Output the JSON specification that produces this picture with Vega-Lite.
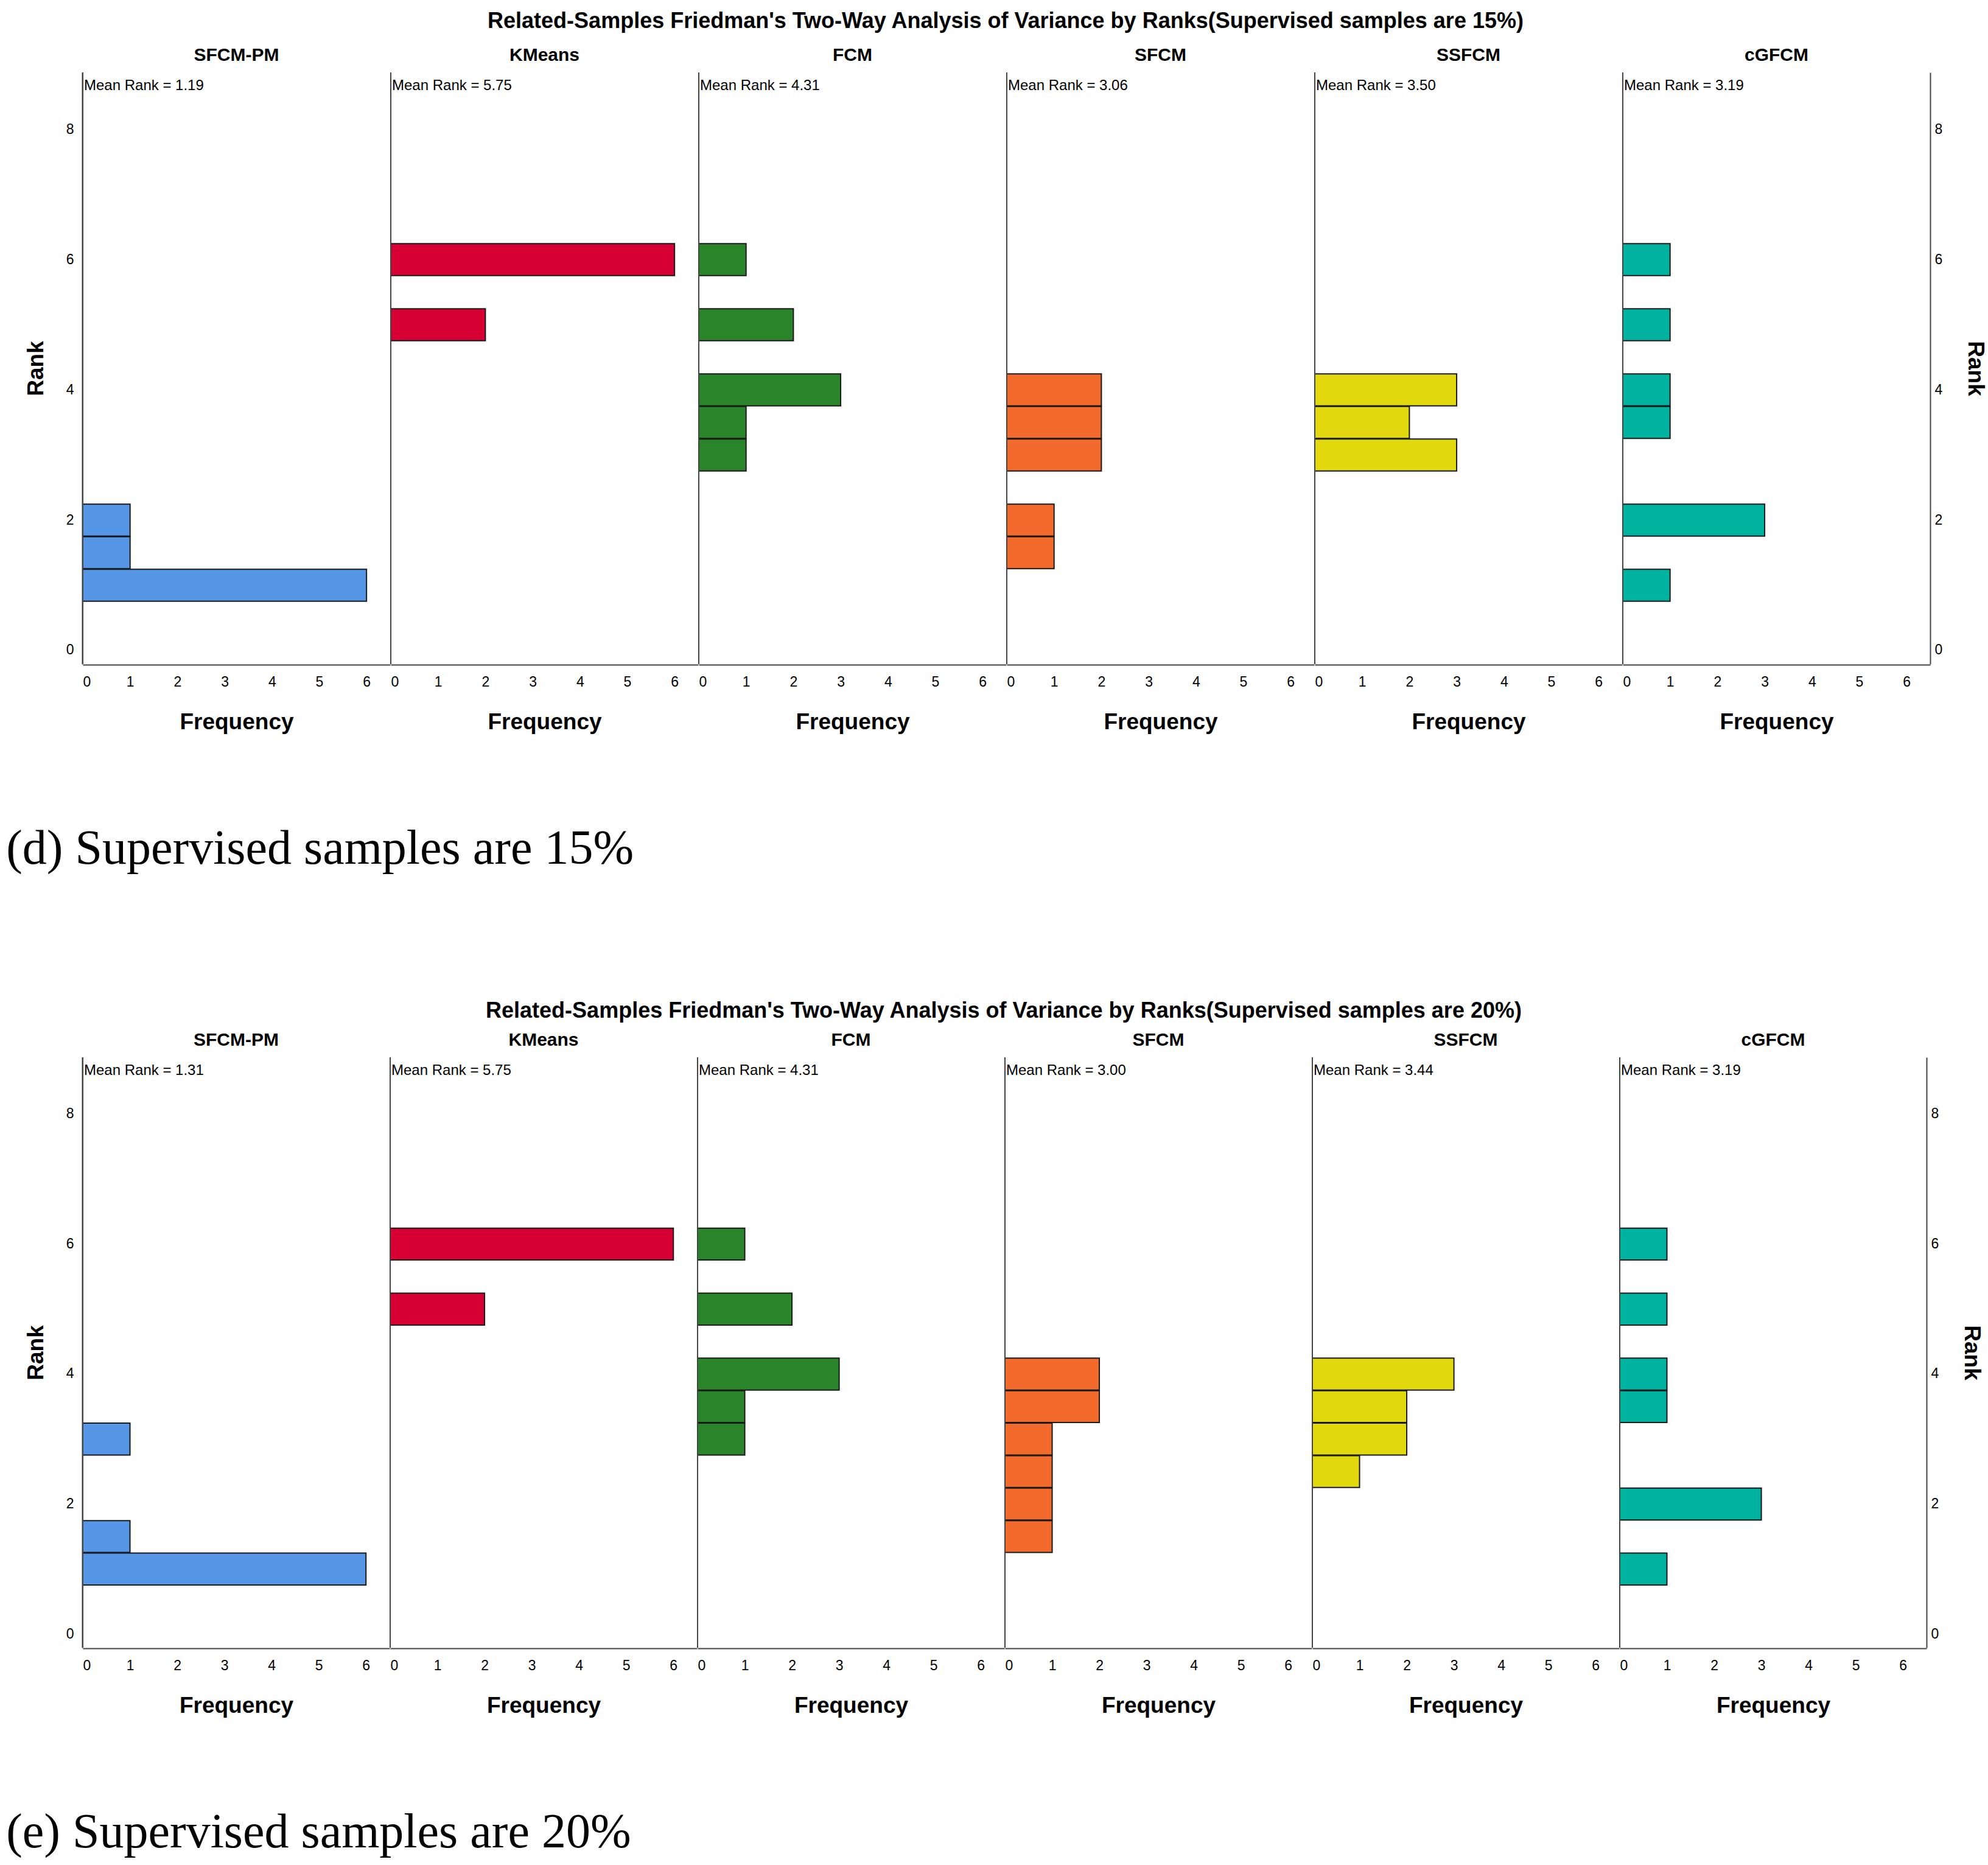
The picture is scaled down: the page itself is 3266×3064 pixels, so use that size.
{
  "$schema": "https://vega.github.io/schema/vega-lite/v6.json",
  "background": "white",
  "padding": {"left": 10, "top": 17, "right": 5, "bottom": 5},
  "datasets": {
    "d15": [
      {"type": "bar", "method": "SFCM-PM", "rank": 1, "count": 6},
      {"type": "bar", "method": "SFCM-PM", "rank": 1.5, "count": 1},
      {"type": "bar", "method": "SFCM-PM", "rank": 2, "count": 1},
      {"type": "bar", "method": "KMeans", "rank": 5, "count": 2},
      {"type": "bar", "method": "KMeans", "rank": 6, "count": 6},
      {"type": "bar", "method": "FCM", "rank": 3, "count": 1},
      {"type": "bar", "method": "FCM", "rank": 3.5, "count": 1},
      {"type": "bar", "method": "FCM", "rank": 4, "count": 3},
      {"type": "bar", "method": "FCM", "rank": 5, "count": 2},
      {"type": "bar", "method": "FCM", "rank": 6, "count": 1},
      {"type": "bar", "method": "SFCM", "rank": 1.5, "count": 1},
      {"type": "bar", "method": "SFCM", "rank": 2, "count": 1},
      {"type": "bar", "method": "SFCM", "rank": 3, "count": 2},
      {"type": "bar", "method": "SFCM", "rank": 3.5, "count": 2},
      {"type": "bar", "method": "SFCM", "rank": 4, "count": 2},
      {"type": "bar", "method": "SSFCM", "rank": 3, "count": 3},
      {"type": "bar", "method": "SSFCM", "rank": 3.5, "count": 2},
      {"type": "bar", "method": "SSFCM", "rank": 4, "count": 3},
      {"type": "bar", "method": "cGFCM", "rank": 1, "count": 1},
      {"type": "bar", "method": "cGFCM", "rank": 2, "count": 3},
      {"type": "bar", "method": "cGFCM", "rank": 3.5, "count": 1},
      {"type": "bar", "method": "cGFCM", "rank": 4, "count": 1},
      {"type": "bar", "method": "cGFCM", "rank": 5, "count": 1},
      {"type": "bar", "method": "cGFCM", "rank": 6, "count": 1},
      {"type": "label", "method": "SFCM-PM", "label": "Mean Rank = 1.19"},
      {"type": "label", "method": "KMeans", "label": "Mean Rank = 5.75"},
      {"type": "label", "method": "FCM", "label": "Mean Rank = 4.31"},
      {"type": "label", "method": "SFCM", "label": "Mean Rank = 3.06"},
      {"type": "label", "method": "SSFCM", "label": "Mean Rank = 3.50"},
      {"type": "label", "method": "cGFCM", "label": "Mean Rank = 3.19"}
    ],
    "d20": [
      {"type": "bar", "method": "SFCM-PM", "rank": 1, "count": 6},
      {"type": "bar", "method": "SFCM-PM", "rank": 1.5, "count": 1},
      {"type": "bar", "method": "SFCM-PM", "rank": 3, "count": 1},
      {"type": "bar", "method": "KMeans", "rank": 5, "count": 2},
      {"type": "bar", "method": "KMeans", "rank": 6, "count": 6},
      {"type": "bar", "method": "FCM", "rank": 3, "count": 1},
      {"type": "bar", "method": "FCM", "rank": 3.5, "count": 1},
      {"type": "bar", "method": "FCM", "rank": 4, "count": 3},
      {"type": "bar", "method": "FCM", "rank": 5, "count": 2},
      {"type": "bar", "method": "FCM", "rank": 6, "count": 1},
      {"type": "bar", "method": "SFCM", "rank": 1.5, "count": 1},
      {"type": "bar", "method": "SFCM", "rank": 2, "count": 1},
      {"type": "bar", "method": "SFCM", "rank": 2.5, "count": 1},
      {"type": "bar", "method": "SFCM", "rank": 3, "count": 1},
      {"type": "bar", "method": "SFCM", "rank": 3.5, "count": 2},
      {"type": "bar", "method": "SFCM", "rank": 4, "count": 2},
      {"type": "bar", "method": "SSFCM", "rank": 2.5, "count": 1},
      {"type": "bar", "method": "SSFCM", "rank": 3, "count": 2},
      {"type": "bar", "method": "SSFCM", "rank": 3.5, "count": 2},
      {"type": "bar", "method": "SSFCM", "rank": 4, "count": 3},
      {"type": "bar", "method": "cGFCM", "rank": 1, "count": 1},
      {"type": "bar", "method": "cGFCM", "rank": 2, "count": 3},
      {"type": "bar", "method": "cGFCM", "rank": 3.5, "count": 1},
      {"type": "bar", "method": "cGFCM", "rank": 4, "count": 1},
      {"type": "bar", "method": "cGFCM", "rank": 5, "count": 1},
      {"type": "bar", "method": "cGFCM", "rank": 6, "count": 1},
      {"type": "label", "method": "SFCM-PM", "label": "Mean Rank = 1.31"},
      {"type": "label", "method": "KMeans", "label": "Mean Rank = 5.75"},
      {"type": "label", "method": "FCM", "label": "Mean Rank = 4.31"},
      {"type": "label", "method": "SFCM", "label": "Mean Rank = 3.00"},
      {"type": "label", "method": "SSFCM", "label": "Mean Rank = 3.44"},
      {"type": "label", "method": "cGFCM", "label": "Mean Rank = 3.19"}
    ]
  },
  "spacing": 208,
  "vconcat": [
    {
      "title": {"text": "(d) Supervised samples are 15%", "orient": "bottom", "anchor": "start", "font": "Liberation Serif", "fontSize": 80, "fontWeight": "normal", "offset": 152, "dx": -30, "color": "black"},
      "vconcat": [
        {
          "data": {"name": "d15"},
          "title": {"text": "Related-Samples Friedman's Two-Way Analysis of Variance by Ranks(Supervised samples are 15%)", "fontSize": 36, "fontWeight": "bold", "anchor": "middle", "offset": 22, "color": "black"},
          "spacing": 0,
          "facet": {"column": {"field": "method", "type": "nominal", "sort": ["SFCM-PM", "KMeans", "FCM", "SFCM", "SSFCM", "cGFCM"], "header": {"title": null, "labelFontSize": 30, "labelFontWeight": "bold", "labelPadding": 12, "labelColor": "black"}}},
          "spec": {
            "width": 505,
            "height": 972,
            "layer": [
              {
                "transform": [{"filter": "datum.type === 'bar'"}],
                "mark": {"type": "bar", "stroke": "#1a1a1a", "strokeWidth": 2},
                "encoding": {
                  "y": {"field": "rank", "type": "quantitative", "bin": {"step": 0.5, "anchor": 0.25, "extent": [0.25, 8.75]}, "scale": {"domain": [-0.215, 8.87], "nice": false, "zero": false}, "axis": {"orient": "left", "values": [0, 2, 4, 6, 8], "format": "d", "title": "Rank", "labelPadding": 14, "titlePadding": 30}},
                  "x": {"field": "count", "type": "quantitative", "scale": {"domain": [0, 6.5], "nice": false}, "axis": {"values": [0, 1, 2, 3, 4, 5, 6], "format": "d", "title": "Frequency", "labelPadding": 17, "titlePadding": 36}},
                  "color": {"field": "method", "type": "nominal", "scale": {"domain": ["SFCM-PM", "KMeans", "FCM", "SFCM", "SSFCM", "cGFCM"], "range": ["#5596E6", "#D70033", "#2A8429", "#F26A2C", "#E2D80E", "#00B3A0"]}, "legend": null}
                }
              },
              {
                "transform": [{"filter": "datum.type === 'label'"}],
                "mark": {"type": "rule", "stroke": "#444", "strokeWidth": 2},
                "encoding": {"x": {"datum": 0}}
              },
              {
                "transform": [{"filter": "datum.type === 'label'"}],
                "mark": {"type": "text", "align": "left", "baseline": "middle", "dx": 2, "fontSize": 24, "color": "black"},
                "encoding": {
                  "x": {"datum": 0},
                  "y": {"datum": 8.66, "axis": {"orient": "right", "values": [0, 2, 4, 6, 8], "format": "d", "title": "Rank", "labelPadding": 7, "titlePadding": 35}},
                  "text": {"field": "label"}
                }
              }
            ],
            "resolve": {"axis": {"y": "independent"}}
          }
        }
      ]
    },
    {
      "title": {"text": "(e) Supervised samples are 20%", "orient": "bottom", "anchor": "start", "font": "Liberation Serif", "fontSize": 80, "fontWeight": "normal", "offset": 152, "dx": -30, "color": "black"},
      "vconcat": [
        {
          "data": {"name": "d20"},
          "title": {"text": "Related-Samples Friedman's Two-Way Analysis of Variance by Ranks(Supervised samples are 20%)", "fontSize": 36, "fontWeight": "bold", "anchor": "middle", "offset": 14, "color": "black"},
          "spacing": 0,
          "facet": {"column": {"field": "method", "type": "nominal", "sort": ["SFCM-PM", "KMeans", "FCM", "SFCM", "SSFCM", "cGFCM"], "header": {"title": null, "labelFontSize": 30, "labelFontWeight": "bold", "labelPadding": 12, "labelColor": "black"}}},
          "spec": {
            "width": 504,
            "height": 970,
            "layer": [
              {
                "transform": [{"filter": "datum.type === 'bar'"}],
                "mark": {"type": "bar", "stroke": "#1a1a1a", "strokeWidth": 2},
                "encoding": {
                  "y": {"field": "rank", "type": "quantitative", "bin": {"step": 0.5, "anchor": 0.25, "extent": [0.25, 8.75]}, "scale": {"domain": [-0.215, 8.87], "nice": false, "zero": false}, "axis": {"orient": "left", "values": [0, 2, 4, 6, 8], "format": "d", "title": "Rank", "labelPadding": 14, "titlePadding": 30}},
                  "x": {"field": "count", "type": "quantitative", "scale": {"domain": [0, 6.5], "nice": false}, "axis": {"values": [0, 1, 2, 3, 4, 5, 6], "format": "d", "title": "Frequency", "labelPadding": 17, "titlePadding": 36}},
                  "color": {"field": "method", "type": "nominal", "scale": {"domain": ["SFCM-PM", "KMeans", "FCM", "SFCM", "SSFCM", "cGFCM"], "range": ["#5596E6", "#D70033", "#2A8429", "#F26A2C", "#E2D80E", "#00B3A0"]}, "legend": null}
                }
              },
              {
                "transform": [{"filter": "datum.type === 'label'"}],
                "mark": {"type": "rule", "stroke": "#444", "strokeWidth": 2},
                "encoding": {"x": {"datum": 0}}
              },
              {
                "transform": [{"filter": "datum.type === 'label'"}],
                "mark": {"type": "text", "align": "left", "baseline": "middle", "dx": 2, "fontSize": 24, "color": "black"},
                "encoding": {
                  "x": {"datum": 0},
                  "y": {"datum": 8.66, "axis": {"orient": "right", "values": [0, 2, 4, 6, 8], "format": "d", "title": "Rank", "labelPadding": 7, "titlePadding": 35}},
                  "text": {"field": "label"}
                }
              }
            ],
            "resolve": {"axis": {"y": "independent"}}
          }
        }
      ]
    }
  ],
  "config": {
    "font": "Liberation Sans",
    "view": {"stroke": null},
    "axis": {"ticks": false, "grid": false, "domainColor": "#444", "domainWidth": 2, "labelColor": "black", "titleColor": "black", "labelFontSize": 23, "titleFontSize": 37, "titleFontWeight": "bold"},
    "header": {"labelFont": "Liberation Sans"},
    "title": {"font": "Liberation Sans"}
  }
}
